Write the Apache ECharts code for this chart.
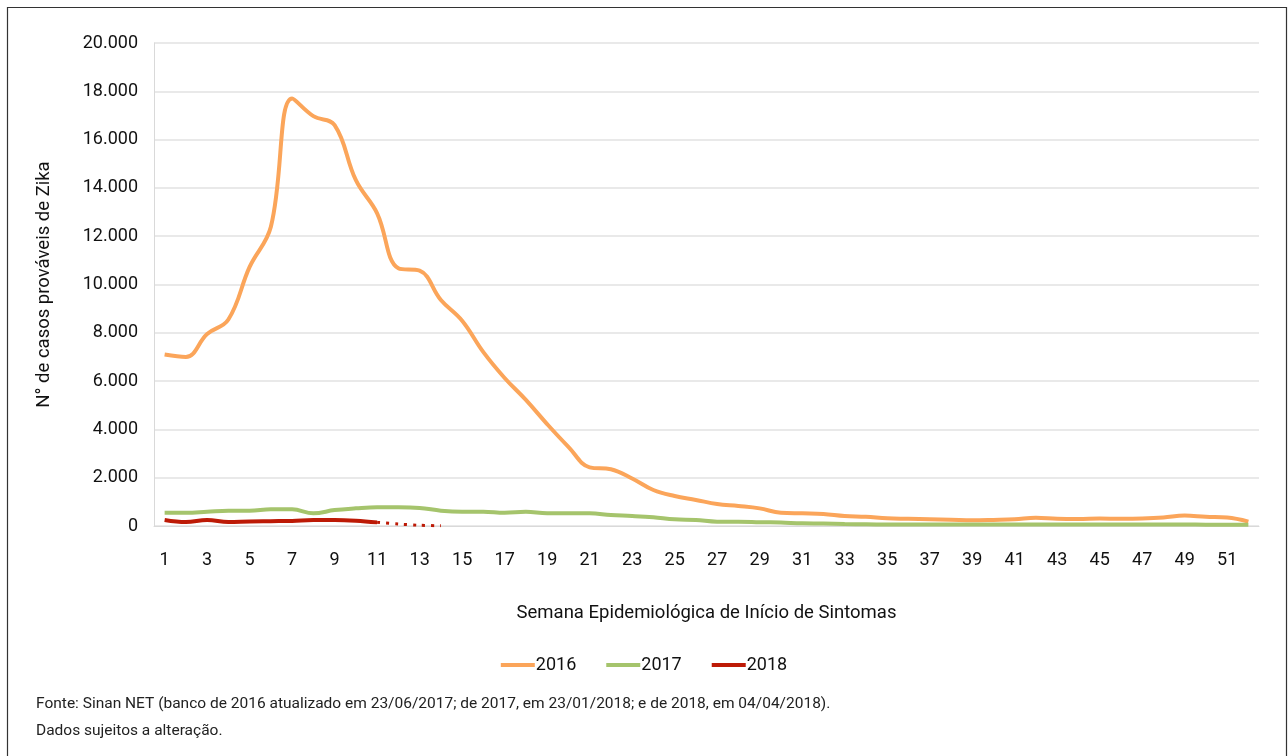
<!DOCTYPE html>
<html>
<head>
<meta charset="utf-8">
<script src="https://cdn.jsdelivr.net/npm/echarts@6/dist/echarts.min.js"></script>
<style>
  html, body { margin: 0; padding: 0; background: #fff; }
  #chart { width: 1288px; height: 756px; }
</style>
</head>
<body>
<div id="chart"></div>
<script>
const weeks = []
for (let i = 1; i <= 52; i++) weeks.push(String(i))

const cases2016 = [
  7100, 7000, 7950, 8550, 10730, 12390, 17700, 16970, 16600, 14320,
  12950, 10670, 10570, 9360, 8500, 7200, 6130, 5220, 4220, 3280,
  2430, 2350, 1970, 1490, 1240, 1080, 910, 830, 730, 550,
  525, 500, 415, 385, 320, 300, 280, 260, 235, 250,
  275, 345, 300, 290, 310, 300, 310, 350, 430, 380,
  350, 180
]
const cases2017 = [
  550, 550, 590, 635, 635, 690, 690, 525, 660, 730,
  775, 775, 750, 635, 590, 595, 550, 590, 525, 525,
  525, 455, 415, 360, 275, 250, 180, 180, 160, 140,
  110, 100, 80, 70, 65, 65, 60, 60, 60, 60,
  60, 60, 60, 60, 60, 60, 60, 60, 60, 55,
  55, 50
]
const cases2018 = [250, 165, 250, 165, 190, 200, 210, 250, 250, 220, 150]
// semanas 11-14 ainda em digitação (pontilhado)
const cases2018Partial = [null, null, null, null, null, null, null, null, null, null, 150, 80, 30, 10]

const font = '"Roboto", sans-serif'
const dom = document.getElementById('chart')
const chart = echarts.init(dom)

const options = {
  animation: false,
  textStyle: { fontFamily: font, color: '#111' },
  graphic: [
    {
      type: 'rect',
      shape: { x: 7.5, y: 7.5, width: 1279, height: 760 },
      style: { fill: 'none', stroke: '#333', lineWidth: 1.2 }
    },
    {
      type: 'text',
      left: 36, top: 696,
      style: {
        text: 'Fonte: Sinan NET (banco de 2016 atualizado em 23/06/2017; de 2017, em 23/01/2018; e de 2018, em 04/04/2018).',
        font: '15.5px ' + font, fill: '#222'
      }
    },
    {
      type: 'text',
      left: 36, top: 723,
      style: { text: 'Dados sujeitos a alteração.', font: '15.5px ' + font, fill: '#222' }
    }
  ],
  grid: { left: 154, right: 29, top: 43, bottom: 230 },
  legend: {
    data: ['2016', '2017', '2018'],
    top: 651,
    left: 'center',
    itemWidth: 34,
    itemHeight: 4,
    itemGap: 30,
    icon: 'rect',
    textStyle: { fontFamily: font, fontSize: 18, color: '#111', padding: [0, 0, 0, -4] }
  },
  xAxis: {
    type: 'category',
    data: weeks,
    name: 'Semana Epidemiológica de Início de Sintomas',
    nameLocation: 'middle',
    nameGap: 78,
    nameTextStyle: { fontSize: 18.5, color: '#111' },
    axisLine: { lineStyle: { color: '#d9d9d9' } },
    axisTick: { show: false },
    axisLabel: { interval: 1, fontSize: 18, color: '#111', margin: 25 }
  },
  yAxis: {
    type: 'value',
    min: 0,
    max: 20000,
    interval: 2000,
    name: 'N° de casos prováveis de Zika',
    nameLocation: 'middle',
    nameGap: 100,
    nameTextStyle: { fontSize: 18.5, color: '#111' },
    axisLine: { show: true, lineStyle: { color: '#d9d9d9' } },
    axisLabel: {
      fontSize: 18, color: '#111', margin: 16,
      formatter: v => v === 0 ? '0' : (v / 1000).toFixed(3)
    },
    splitLine: { lineStyle: { color: '#e2e2e2', width: 1.5 } }
  },
  series: [
    {
      name: '2016', type: 'line', data: cases2016, smooth: 0.4,
      showSymbol: false, color: '#fba55a', lineStyle: { width: 4 }
    },
    {
      name: '2017', type: 'line', data: cases2017, smooth: 0.4,
      showSymbol: false, color: '#a5c46c', lineStyle: { width: 4 }
    },
    {
      name: '2018', type: 'line', data: cases2018, smooth: 0.4,
      showSymbol: false, color: '#bd1a06', lineStyle: { width: 4 }
    },
    {
      name: '2018 parcial', type: 'line', data: cases2018Partial, smooth: 0.3,
      showSymbol: false, color: '#bd1a06',
      lineStyle: { width: 3, type: [3, 6] }
    }
  ]
}

chart.setOption(options)
</script>
</body>
</html>
